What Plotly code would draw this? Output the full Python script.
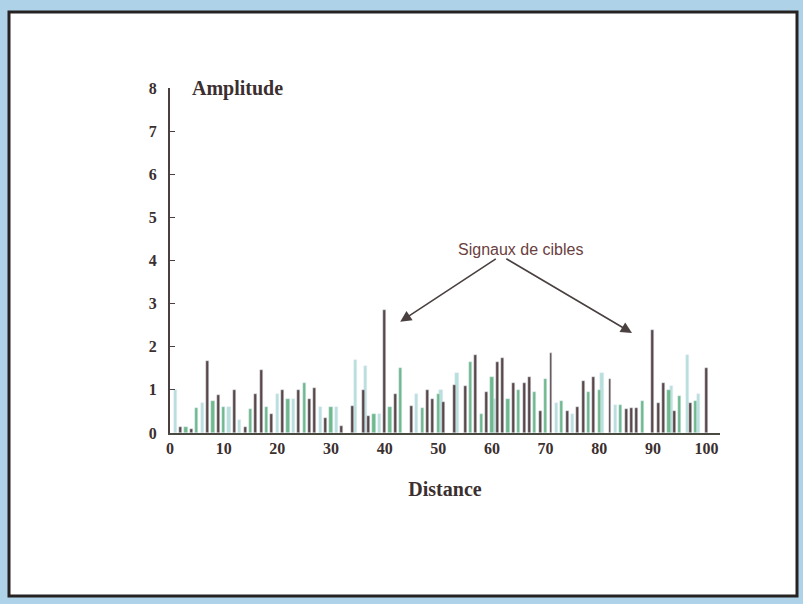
import plotly.graph_objects as go

# amplitude vs distance, three kinds of echoes
brown_x = [2, 4, 7, 9, 12, 14, 16, 17, 19, 21, 24, 26, 27, 29, 32, 34, 36, 37, 40, 42, 45, 48, 49, 51,
           53, 55, 57, 59, 61, 62, 64, 66, 67, 69, 71, 74, 76, 77, 79, 82, 85, 86, 87, 90, 91, 92, 94, 97, 100]
brown_y = [0.15, 0.1, 1.68, 0.88, 1.0, 0.15, 0.9, 1.47, 0.45, 1.0, 1.0, 0.8, 1.05, 0.35, 0.17, 0.62, 1.0, 0.4, 2.85, 0.9, 0.62, 1.0, 0.8, 0.72,
           1.12, 1.1, 1.8, 0.95, 1.65, 1.75, 1.15, 1.15, 1.3, 0.5, 1.85, 0.52, 0.6, 1.2, 1.3, 1.25, 0.55, 0.58, 0.58, 2.4, 0.7, 1.17, 0.5, 0.7, 1.5]

green_x = [3, 5, 8, 10, 15, 18, 22, 25, 30, 38, 41, 43, 47, 50, 56, 58, 60, 63, 65, 68, 70, 73, 78, 80, 84, 88, 93, 95, 98]
green_y = [0.15, 0.58, 0.75, 0.6, 0.55, 0.6, 0.8, 1.15, 0.6, 0.45, 0.6, 1.5, 0.58, 0.9, 1.65, 0.45, 1.3, 0.8, 1.0, 0.95, 1.25, 0.75, 0.95, 1.0, 0.65, 0.75, 1.0, 0.85, 0.75]

light_x = [1, 6, 11, 13, 20, 23, 28, 31, 34.5, 36.5, 39, 46, 50.5, 53.5, 60.5, 72, 75, 80.5, 83, 93.5, 96.5, 98.5]
light_y = [1.0, 0.7, 0.6, 0.3, 0.9, 0.8, 0.6, 0.6, 1.7, 1.55, 0.45, 0.9, 1.0, 1.4, 0.8, 0.7, 0.45, 1.4, 0.65, 1.1, 1.8, 0.9]

x_ticks = [0, 10, 20, 30, 40, 50, 60, 70, 80, 90, 100]
y_ticks = [0, 1, 2, 3, 4, 5, 6, 7, 8]

W, H = 803, 604
M_L, M_R, M_T, M_B = 170, 83, 88, 171
PW, PH = W - M_L - M_R, H - M_T - M_B


def px_x(p):
    return (p - M_L) / PW


def px_y(p):
    return (H - M_B - p) / PH


serif = "Liberation Serif"
dark = "#3b2f2f"

fig = go.Figure()
fig.add_trace(go.Bar(x=light_x, y=light_y, marker_color="#b9dfdc", width=0.6))
fig.add_trace(go.Bar(x=green_x, y=green_y, marker_color="#6fb98d", width=0.6))
fig.add_trace(go.Bar(x=brown_x, y=brown_y, marker_color="#5a4848", width=0.55))

# white slide with dark border on a light blue background
fig.add_shape(type="rect", xref="paper", yref="paper", layer="below",
              x0=px_x(9), x1=px_x(797), y0=px_y(596), y1=px_y(12),
              fillcolor="white", line=dict(color="#262222", width=3))

fig.add_annotation(xref="paper", yref="y", x=px_x(190), y=8, xanchor="left", yanchor="middle",
                   text="Amplitude", showarrow=False,
                   font=dict(family=serif, size=20, color=dark, weight="bold"))
fig.add_annotation(x=65.4, y=4.25, text="Signaux de cibles", showarrow=False,
                   font=dict(family="Liberation Sans", size=16, color="#6a4040"))
for tip_x, tip_y, tail_x in [(42.9, 2.58, 61.0), (86.1, 2.32, 62.4)]:
    fig.add_annotation(x=tip_x, y=tip_y, ax=tail_x, ay=4.06, axref="x", ayref="y", text="",
                       showarrow=True, arrowhead=2, arrowsize=1.4, arrowwidth=1.6, arrowcolor="#4a4040")

fig.update_layout(width=W, height=H, margin=dict(l=M_L, r=M_R, t=M_T, b=M_B),
                  paper_bgcolor="#aed3e8", plot_bgcolor="rgba(0,0,0,0)",
                  showlegend=False, barmode="overlay", bargap=0)
fig.update_xaxes(range=[0, 102.5], tickvals=x_ticks, showgrid=False, zeroline=False,
                 showline=True, linewidth=2, linecolor="#4a4a40", ticks="",
                 tickfont=dict(family=serif, size=16, color=dark, weight="bold"),
                 title=dict(text="Distance", standoff=26,
                            font=dict(family=serif, size=20, color=dark, weight="bold")))
fig.update_yaxes(range=[0, 8], tickvals=y_ticks, showgrid=False, zeroline=False,
                 showline=True, linewidth=2, linecolor="#4a4040",
                 ticks="inside", ticklen=5, tickcolor="#4a4040", ticklabelstandoff=8,
                 tickfont=dict(family=serif, size=16, color=dark, weight="bold"))

# drop the browser's default page margin so the figure sits at the window's corner
fig.write_html("out.html", config={"displayModeBar": False},
               post_script="document.body.style.margin = '0';")
